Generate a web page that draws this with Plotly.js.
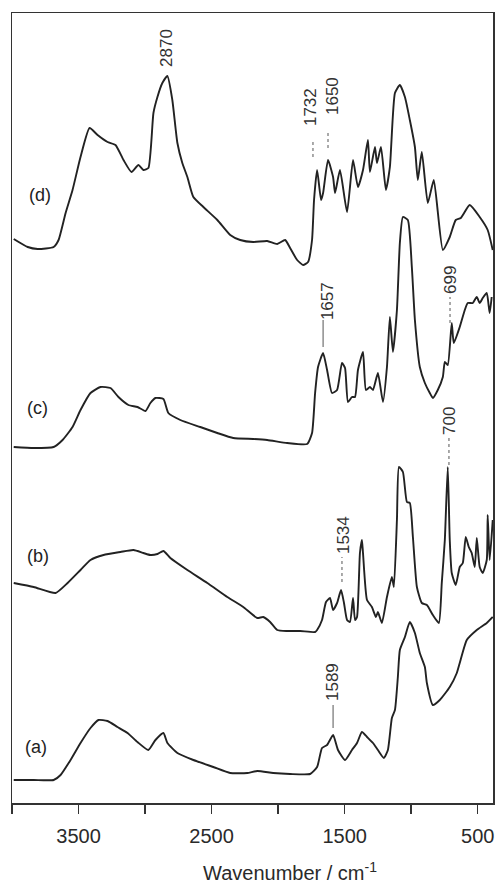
<!DOCTYPE html>
<html>
<head>
<meta charset="utf-8">
<script src="https://cdn.plot.ly/plotly-3.0.1.min.js"></script>
<style>html,body{margin:0;padding:0;background:#fff;}#chart{width:498px;height:885px;}</style>
</head>
<body>
<div id="chart"></div>
<script>
// Wavenumbers (cm^-1) and intensities (arbitrary units, relative to each trace's own baseline)
const wnA = [3987,3837,3687,3635,3560,3485,3410,3350,3282,3207,3132,3057,2975,2922,2862,2832,2757,2637,2487,2360,2232,2157,2037,1910,1760,1707,1670,1632,1587,1550,1497,1445,1407,1370,1332,1287,1250,1205,1175,1145,1122,1100,1085,1047,1010,972,935,897,882,837,785,710,657,635,582,507,432,387];
const intA = [0,0,0,5,20,37,52,60,59,53,47,38,30,40,47,37,27,20,13,7,7,9,7,6,6,13,32,35,45,30,20,30,37,48,43,37,30,22,30,62,70,103,130,143,158,147,127,113,97,75,80,93,107,117,140,150,157,163];

const wnB = [3987,3837,3672,3582,3485,3410,3312,3185,3087,3012,2960,2907,2862,2810,2682,2532,2382,2262,2157,2112,2060,2007,1932,1835,1722,1707,1670,1640,1610,1587,1557,1527,1505,1482,1460,1437,1422,1407,1385,1370,1362,1332,1295,1265,1250,1220,1182,1145,1130,1107,1092,1062,1032,1010,987,957,920,882,837,792,770,747,725,710,695,665,635,612,590,567,545,522,507,485,462,432,425,410,387];
const intB = [49,45,39,49,62,72,77,80,82,79,77,78,81,74,62,49,35,25,14,15,10,2,1,1,0,2,12,30,34,22,29,42,29,12,10,34,12,15,79,92,79,32,25,15,20,9,35,55,45,112,165,160,130,129,95,45,29,27,17,9,49,92,165,92,59,47,65,69,95,85,79,65,94,65,59,72,117,72,112];

const wnC = [3987,3837,3687,3620,3545,3485,3410,3335,3260,3200,3125,3057,2997,2960,2922,2862,2825,2735,2585,2457,2337,2187,2082,1932,1782,1745,1722,1700,1662,1632,1595,1557,1520,1497,1475,1445,1422,1400,1362,1340,1310,1287,1250,1212,1182,1160,1137,1107,1085,1062,1025,995,972,935,897,860,837,800,762,747,725,695,680,635,597,575,537,507,485,462,432,410,395];
const intC = [1,0,1,8,21,38,55,61,60,51,43,41,37,45,50,49,35,28,21,15,10,9,8,5,4,15,55,81,95,78,55,58,85,80,46,51,51,78,96,58,61,58,75,46,81,131,96,138,205,231,228,181,128,81,65,55,50,58,71,86,83,125,105,121,138,145,145,151,145,150,155,135,151];

const wnD = [3987,3882,3807,3687,3650,3597,3545,3485,3417,3357,3282,3222,3162,3102,3050,3012,2975,2937,2907,2870,2832,2795,2757,2720,2682,2637,2562,2457,2360,2285,2187,2082,2007,1947,1910,1857,1812,1775,1745,1730,1707,1677,1662,1625,1587,1572,1535,1482,1437,1400,1362,1325,1310,1272,1257,1227,1190,1160,1122,1085,1047,1010,972,950,920,875,830,762,710,665,627,560,485,425,387];
const intD = [26,18,16,18,25,52,75,108,137,130,123,120,105,93,100,95,97,152,168,182,189,165,122,102,88,68,58,45,30,25,23,24,21,25,17,5,0,3,25,65,95,65,72,105,88,72,95,53,105,78,95,125,93,118,102,118,75,98,172,180,168,145,118,85,113,62,85,15,28,45,47,60,48,35,15];

const sampleNames = ["(a)", "(b)", "(c)", "(d)"];
const stackOffsets = [23, 171, 355, 538];
const tickVals = [3500, 2500, 1500, 500];
const tickText = ["3500", "2500", "1500", "500"];

const series = [[wnA, intA], [wnB, intB], [wnC, intC], [wnD, intD]];
const traces = series.map((s, i) => ({
  x: s[0],
  y: s[1].map(v => v + stackOffsets[i]),
  type: "scatter",
  mode: "lines",
  name: sampleNames[i],
  line: {color: "#222", width: 1.9, shape: "spline", smoothing: 0.5},
  hoverinfo: "skip"
}));

const FONT = "Arial, 'Liberation Sans', sans-serif";
const annotations = [];
// sample labels
const labelPos = [[3820, 56], [3805, 247], [3805, 395], [3790, 608]];
sampleNames.forEach((t, i) => annotations.push({
  x: labelPos[i][0], y: labelPos[i][1], xref: "x", yref: "y", text: t, showarrow: false,
  font: {family: FONT, size: 18, color: "#222"}, xanchor: "center", yanchor: "middle"
}));
// peak labels (rotated)
const peakLabels = [
  ["2870", 2843, 755], ["1732", 1760, 696], ["1650", 1595, 707],
  ["1657", 1632, 502], ["699", 708, 523], ["700", 716, 382],
  ["1534", 1512, 268], ["1589", 1595, 121]
];
peakLabels.forEach(p => annotations.push({
  x: p[1], y: p[2], xref: "x", yref: "y", text: p[0], showarrow: false, textangle: -90,
  font: {family: FONT, size: 17, color: "#333"}, xanchor: "center", yanchor: "middle"
}));
annotations.push({
  x: 0.578, y: -0.087, xref: "paper", yref: "paper", text: "Wavenumber / cm<sup>-1</sup>",
  showarrow: false, font: {family: FONT, size: 20, color: "#2a2a2a"}, xanchor: "center", yanchor: "middle"
});

const markLines = [
  [1738, 646, 661, "dot"], [1625, 655, 673, "dot"], [1662, 456, 483, "solid"],
  [708, 480, 506, "dot"], [716, 338, 367, "dot"], [1520, 221, 246, "dot"], [1587, 75, 98, "solid"]
];
const shapes = markLines.map(m => ({
  type: "line", xref: "x", yref: "y", x0: m[0], x1: m[0], y0: m[1], y1: m[2],
  line: {color: "#555", width: 1, dash: m[3]}
}));

const layout = {
  width: 498, height: 885,
  margin: {l: 12, r: 5, t: 13, b: 82},
  paper_bgcolor: "#fff", plot_bgcolor: "#fff",
  showlegend: false,
  xaxis: {
    range: [4000, 385], tickmode: "array", tickvals: tickVals, ticktext: tickText,
    ticks: "outside", ticklen: 9, tickwidth: 1.5, tickcolor: "#333",
    ticklabelstandoff: 5,
    minor: {tick0: 0, dtick: 500, ticks: "outside", ticklen: 9, tickwidth: 1.5, tickcolor: "#333", showgrid: false},
    showgrid: false, zeroline: false, showline: true, mirror: true, linecolor: "#333", linewidth: 1.5,
    tickfont: {family: FONT, size: 20, color: "#2a2a2a"}
  },
  yaxis: {
    range: [0, 790], showticklabels: false, ticks: "", showgrid: false, zeroline: false,
    showline: true, mirror: true, linecolor: "#333", linewidth: 1.5
  },
  annotations: annotations,
  shapes: shapes
};

Plotly.newPlot("chart", traces, layout, {staticPlot: true, displayModeBar: false});
</script>
</body>
</html>
